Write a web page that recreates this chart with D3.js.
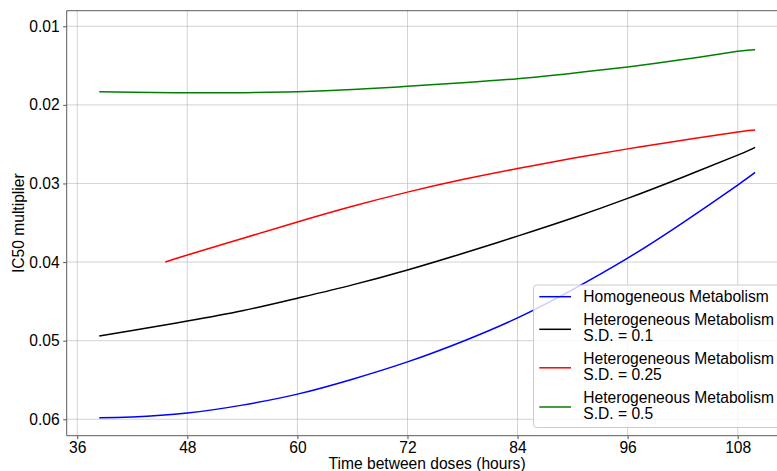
<!DOCTYPE html>
<html>
<head>
<meta charset="utf-8">
<script src="https://cdn.jsdelivr.net/npm/d3@7"></script>
<style>
    body { margin: 0; background: white; }
    svg { display: block; font-family: "Liberation Sans", Arial, sans-serif; }
</style>
</head>
<body>
<svg id="chart" width="777" height="471"></svg>
<script>
// values
const hours = [38.4, 42, 48, 54, 60, 66, 72, 78, 84, 90, 96, 102, 108, 109.9];
const hoursRed = [45.6, 48, 54, 60, 66, 72, 78, 84, 90, 96, 102, 108, 109.9];

const homogeneous = [0.0598, 0.0597, 0.0592, 0.0582, 0.0568, 0.0549, 0.0527, 0.0501, 0.0471, 0.0435, 0.0395, 0.0350, 0.0302, 0.0286];
const hetero01 = [0.0494, 0.0487, 0.0475, 0.0462, 0.0446, 0.0429, 0.0410, 0.0389, 0.0367, 0.0344, 0.0319, 0.0292, 0.0264, 0.0254];
const hetero025 = [0.0400, 0.0391, 0.0370, 0.0349, 0.0329, 0.0311, 0.0295, 0.0281, 0.0268, 0.0256, 0.0245, 0.02345, 0.0232];
const hetero05 = [0.01832, 0.01840, 0.01847, 0.01845, 0.01832, 0.01805, 0.01764, 0.01718, 0.01667, 0.01597, 0.01518, 0.01424, 0.01318, 0.01298];

const xTicks = [36, 48, 60, 72, 84, 96, 108];
const yTicks = [0.01, 0.02, 0.03, 0.04, 0.05, 0.06];

const seriesNames = [["Homogeneous Metabolism"], ["Heterogeneous Metabolism", "S.D. = 0.1"],
    ["Heterogeneous Metabolism", "S.D. = 0.25"], ["Heterogeneous Metabolism", "S.D. = 0.5"]];
const seriesColors = ["#0000ff", "#000000", "#ff0000", "#008000"];

const series = [
    { xs: hours, ys: homogeneous },
    { xs: hours, ys: hetero01 },
    { xs: hoursRed, ys: hetero025 },
    { xs: hours, ys: hetero05 }
];

const fontSize = "15.6px";

// plot box (right side runs past the picture edge, like the original)
const plotLeft = 66.7, plotTop = 10.7, plotRight = 787.5, plotBottom = 435.7;

const svg = d3.select("#chart");

const x = d3.scaleLinear().domain([34.85, 113.43]).range([plotLeft, plotRight]);
const y = d3.scaleLinear().domain([0.00802, 0.06209]).range([plotTop, plotBottom]);

// grid
svg.append("g")
    .selectAll("line")
    .data(xTicks)
    .enter()
    .append("line")
    .attr("x1", (d) => x(d)).attr("x2", (d) => x(d))
    .attr("y1", plotTop).attr("y2", plotBottom)
    .attr("stroke", "#b0b0b0").attr("stroke-width", 0.8).attr("stroke-opacity", 0.7);

svg.append("g")
    .selectAll("line")
    .data(yTicks)
    .enter()
    .append("line")
    .attr("x1", plotLeft).attr("x2", plotRight)
    .attr("y1", (d) => y(d)).attr("y2", (d) => y(d))
    .attr("stroke", "#b0b0b0").attr("stroke-width", 0.8).attr("stroke-opacity", 0.7);

// axes
const xAxis = svg.append("g")
    .attr("transform", "translate(0," + plotBottom + ")")
    .call(d3.axisBottom(x).tickValues(xTicks).tickSize(3.5).tickPadding(2.8).tickFormat(d3.format("d")));

const yAxis = svg.append("g")
    .attr("transform", "translate(" + plotLeft + ",0)")
    .call(d3.axisLeft(y).tickValues(yTicks).tickSize(3.5).tickPadding(3.5).tickFormat(d3.format(".2f")));

[xAxis, yAxis].forEach((a) => {
    a.select(".domain").remove();
    a.selectAll(".tick line").attr("stroke", "#555");
    a.selectAll(".tick text")
        .attr("fill", "#000")
        .style("font-size", fontSize)
        .style("font-family", "'Liberation Sans', Arial, sans-serif");
});

// spines
svg.append("path")
    .attr("d", "M" + plotRight + "," + plotTop + "H" + plotLeft + "V" + plotBottom + "H" + plotRight)
    .attr("fill", "none")
    .attr("stroke", "#5c5c5c")
    .attr("stroke-width", 1);

// lines
const line = d3.line().curve(d3.curveNatural);

svg.append("g")
    .selectAll("path")
    .data(series)
    .enter()
    .append("path")
    .attr("d", (s) => line(s.xs.map((h, i) => [x(h), y(s.ys[i])])))
    .attr("fill", "none")
    .attr("stroke", (s, i) => seriesColors[i])
    .attr("stroke-width", 1.5);

// axis titles
svg.append("text")
    .text("Time between doses (hours)")
    .attr("x", (plotLeft + plotRight) / 2)
    .attr("y", 469)
    .style("text-anchor", "middle")
    .style("font-size", fontSize);

svg.append("text")
    .text("IC50 multiplier")
    .attr("transform", "translate(24," + (plotTop + plotBottom) / 2 + ") rotate(-90)")
    .style("text-anchor", "middle")
    .style("font-size", fontSize);

// legend
const legend = svg.append("g");

legend.append("rect")
    .attr("x", 533.5).attr("y", 285)
    .attr("width", 270).attr("height", 142.5)
    .attr("rx", 3)
    .attr("fill", "white").attr("fill-opacity", 0.8)
    .attr("stroke", "#cccccc").attr("stroke-width", 1);

const entryY = [296.7, 327.8, 366.3, 405.5];

seriesNames.forEach((names, i) => {
    legend.append("line")
        .attr("x1", 539.3).attr("x2", 571)
        .attr("y1", names.length > 1 ? entryY[i] + 1.5 : entryY[i])
        .attr("y2", names.length > 1 ? entryY[i] + 1.5 : entryY[i])
        .attr("stroke", seriesColors[i])
        .attr("stroke-width", 1.5);

    names.forEach((t, j) => {
        legend.append("text")
            .text(t)
            .attr("x", 583.3)
            .attr("y", names.length > 1 ? entryY[i] - 7.8 + j * 15.7 : entryY[i])
            .attr("dy", "0.35em")
            .style("font-size", fontSize);
    });
});
</script>
</body>
</html>
